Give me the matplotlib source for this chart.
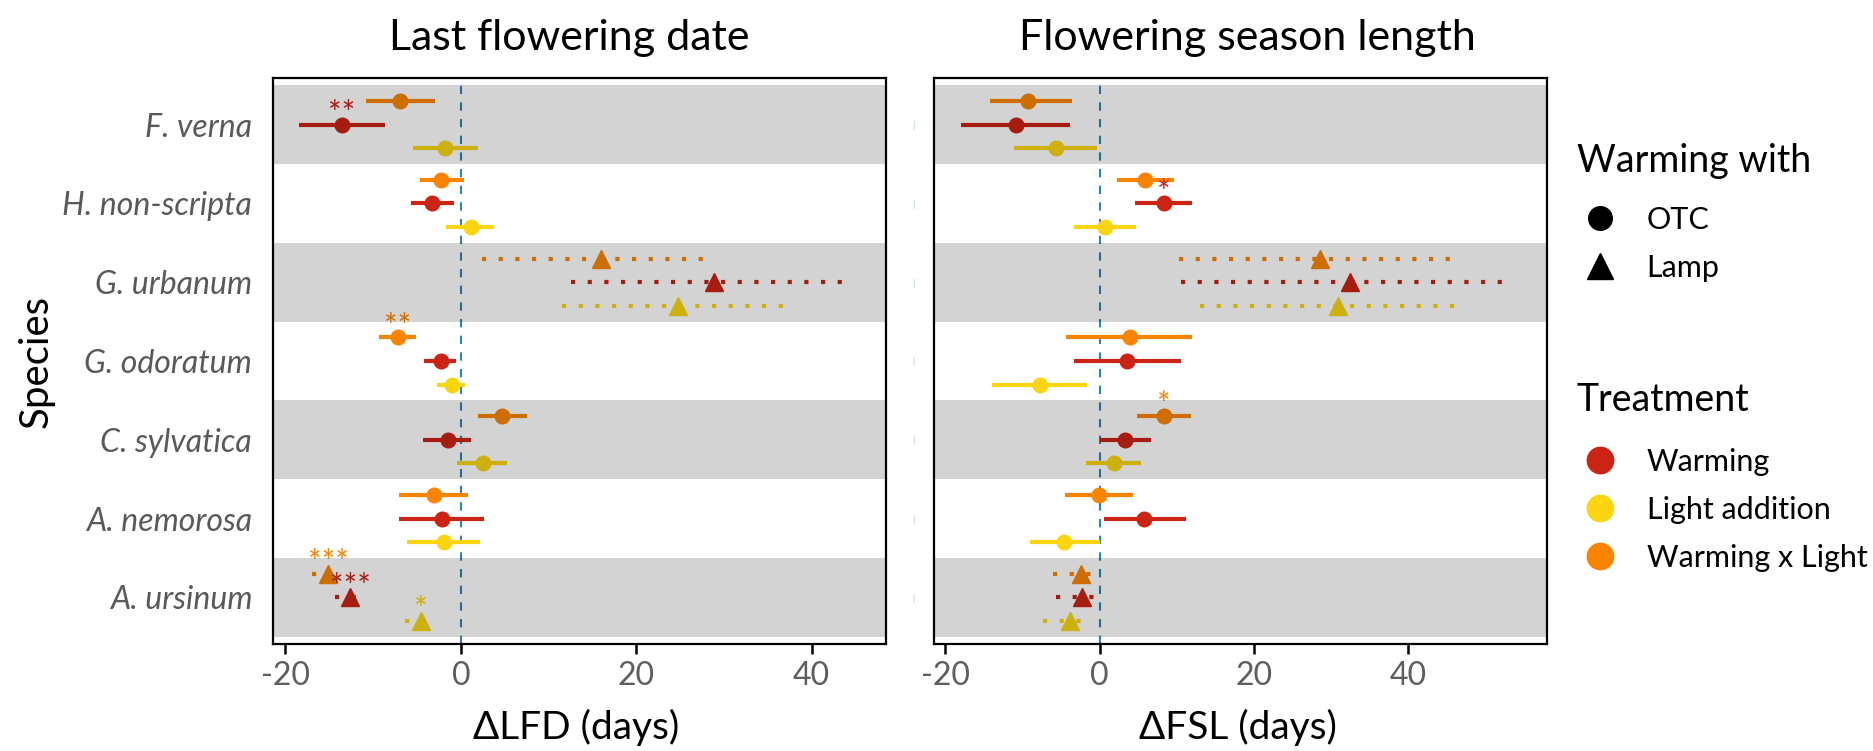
import numpy as np
import matplotlib.pyplot as plt
from matplotlib.lines import Line2D

plt.rcParams['font.family'] = ['Lato', 'DejaVu Sans']
plt.rcParams['axes.unicode_minus'] = False

# ---- data ----
species = ["F. verna", "H. non-scripta", "G. urbanum", "G. odoratum",
           "C. sylvatica", "A. nemorosa", "A. ursinum"]
warming_with = ["OTC", "OTC", "Lamp", "OTC", "OTC", "OTC", "Lamp"]
treatments = ["Warming x Light", "Warming", "Light addition"]
legend_order = ["Warming", "Light addition", "Warming x Light"]

# Last flowering date
lfd_wxl = [-6.9, -2.3, 16.0, -7.2, 4.7, -3.1, -15.1]
lfd_wxl_lo = [-10.8, -4.7, 2.4, -9.3, 1.9, -7.1, -17.0]
lfd_wxl_hi = [-2.9, 0.3, 28.7, -5.1, 7.5, 0.8, -13.3]
lfd_w = [-13.6, -3.3, 28.9, -2.3, -1.5, -2.2, -12.6]
lfd_w_lo = [-18.4, -5.7, 12.6, -4.2, -4.3, -7.0, -14.3]
lfd_w_hi = [-8.7, -0.8, 44.5, -0.5, 1.1, 2.6, -10.8]
lfd_la = [-1.8, 1.1, 24.7, -1.0, 2.5, -1.9, -4.6]
lfd_la_lo = [-5.5, -1.7, 11.5, -2.75, -0.4, -6.1, -6.4]
lfd_la_hi = [1.9, 3.8, 37.8, 0.5, 5.3, 2.2, -2.7]
lfd_wxl_sig = ["", "", "", "**", "", "", "***"]
lfd_w_sig = ["**", "", "", "", "", "", "***"]
lfd_la_sig = ["", "", "", "", "", "", "*"]

# Flowering season length
fsl_wxl = [-9.3, 5.9, 28.6, 3.9, 8.3, -0.1, -2.4]
fsl_wxl_lo = [-14.2, 2.2, 10.3, -4.4, 4.8, -4.5, -6.1]
fsl_wxl_hi = [-3.6, 9.6, 46.8, 12.0, 11.9, 4.35, 0.3]
fsl_w = [-10.9, 8.3, 32.4, 3.6, 3.3, 5.8, -2.3]
fsl_w_lo = [-18.0, 4.6, 10.5, -3.4, 0.0, 0.5, -5.7]
fsl_w_hi = [-3.8, 12.0, 53.3, 10.5, 6.7, 11.2, 0.7]
fsl_la = [-5.7, 0.7, 30.9, -7.8, 1.9, -4.6, -3.8]
fsl_la_lo = [-11.1, -3.4, 13.0, -14.0, -1.75, -9.1, -7.3]
fsl_la_hi = [-0.3, 4.7, 47.3, -1.6, 5.4, 0.0, -1.0]
fsl_wxl_sig = ["", "", "", "", "*", "", ""]
fsl_w_sig = ["", "*", "", "", "", "", ""]
fsl_la_sig = ["", "", "", "", "", "", ""]

colors = {"Warming": "#CB2314", "Light addition": "#FAD510",
          "Warming x Light": "#F98400"}
dodge = {"Warming x Light": 0.3, "Warming": 0.0, "Light addition": -0.3}

lfd = {"Warming x Light": (lfd_wxl, lfd_wxl_lo, lfd_wxl_hi, lfd_wxl_sig),
       "Warming": (lfd_w, lfd_w_lo, lfd_w_hi, lfd_w_sig),
       "Light addition": (lfd_la, lfd_la_lo, lfd_la_hi, lfd_la_sig)}
fsl = {"Warming x Light": (fsl_wxl, fsl_wxl_lo, fsl_wxl_hi, fsl_wxl_sig),
       "Warming": (fsl_w, fsl_w_lo, fsl_w_hi, fsl_w_sig),
       "Light addition": (fsl_la, fsl_la_lo, fsl_la_hi, fsl_la_sig)}

W, H = 1874, 751
fig = plt.figure(figsize=(W / 100, H / 100), dpi=100)


def px_axes(x0, x1, y0, y1):
    return fig.add_axes([x0 / W, 1 - y1 / H, (x1 - x0) / W, (y1 - y0) / H])


ax1 = px_axes(273, 886, 78, 644)
ax2 = px_axes(934, 1547, 78, 644)

ypos = np.arange(len(species), 0, -1)  # top species at the top


def draw_panel(ax, data, xlim):
    for t in treatments:
        est, lo, hi, sig = data[t]
        for k in range(len(species)):
            y = ypos[k] + dodge[t]
            lamp = warming_with[k] == "Lamp"
            ax.plot([lo[k], hi[k]], [y, y], color=colors[t], lw=3.0,
                    solid_capstyle='butt', dash_capstyle='butt',
                    linestyle=(0, (1.0, 3.0)) if lamp else '-', zorder=2)
            ax.plot(est[k], y, marker='^' if lamp else 'o',
                    markersize=13.5 if lamp else 10.5, color=colors[t],
                    linestyle='', zorder=3)
            if sig[k]:
                ax.text(est[k], y + 0.01, sig[k], color=colors[t],
                        ha='center', va='baseline', fontsize=23, zorder=3)
    ax.axvline(0, color='#2b86b5', lw=1.5, linestyle=(0, (4, 4)), zorder=1)
    # grey bands drawn on top, darkening what lies beneath
    for k in range(0, len(species), 2):
        ax.axhspan(ypos[k] - 0.5, ypos[k] + 0.5, color='black', alpha=0.1725,
                   lw=0, zorder=5)
    ax.set_xlim(*xlim)
    ax.set_ylim(0.41, 7.59)
    ax.set_xticks([-20, 0, 20, 40])
    ax.tick_params(axis='x', length=7.2, width=1.8, pad=5, labelsize=23,
                   labelcolor='#5e5e5e', color='black')
    for s in ax.spines.values():
        s.set_linewidth(1.6)
        s.set_zorder(6)


draw_panel(ax1, lfd, (-21.42, 48.47))
draw_panel(ax2, fsl, (-21.49, 58.0))

ax1.set_yticks(ypos)
ax1.set_yticklabels(species, fontsize=23, fontstyle='italic', color='#595959')
ax1.tick_params(axis='y', length=0, pad=15)

ax2.set_yticks(ypos)
ax2.set_yticklabels(['|'] * len(species), fontsize=7, color='#a9c9dd')
ax2.tick_params(axis='y', length=0, pad=14)

fig.text(569 / W, 1 - 50 / H, "Last flowering date", ha='center',
         va='baseline', fontsize=31)
fig.text(1247 / W, 1 - 50 / H, "Flowering season length", ha='center',
         va='baseline', fontsize=31)
fig.text(576 / W, 1 - 727 / H, "ΔLFD (days)", ha='center', va='center',
         fontsize=28)
fig.text(1238 / W, 1 - 727 / H, "ΔFSL (days)", ha='center', va='center',
         fontsize=28)
fig.text(36 / W, 1 - 361 / H, "Species", ha='center', va='center',
         rotation=90, fontsize=29)

# legends: titles as text, entries as legends
fig.text(1577 / W, 1 - 172 / H, "Warming with", ha='left', va='baseline',
         fontsize=27)
fig.text(1577 / W, 1 - 411 / H, "Treatment", ha='left', va='baseline',
         fontsize=27)

shape_handles = [Line2D([], [], marker='o', color='black', linestyle='', markersize=17),
                 Line2D([], [], marker='^', color='black', linestyle='', markersize=19)]
leg_kw = dict(frameon=False, fontsize=22, handlelength=1.5, handletextpad=0.78,
              borderpad=0, borderaxespad=0, labelspacing=0.65)
leg1 = fig.legend(shape_handles, ["OTC", "Lamp"], loc='center left',
                  bbox_to_anchor=(1577 / W, 1 - 244 / H), **leg_kw)
color_handles = [Line2D([], [], marker='o', color=colors[t], linestyle='',
                        markersize=19) for t in legend_order]
leg2 = fig.legend(color_handles, legend_order, loc='center left',
                  bbox_to_anchor=(1577 / W, 1 - 510 / H), **leg_kw)

fig.savefig('out.png', dpi=100)
